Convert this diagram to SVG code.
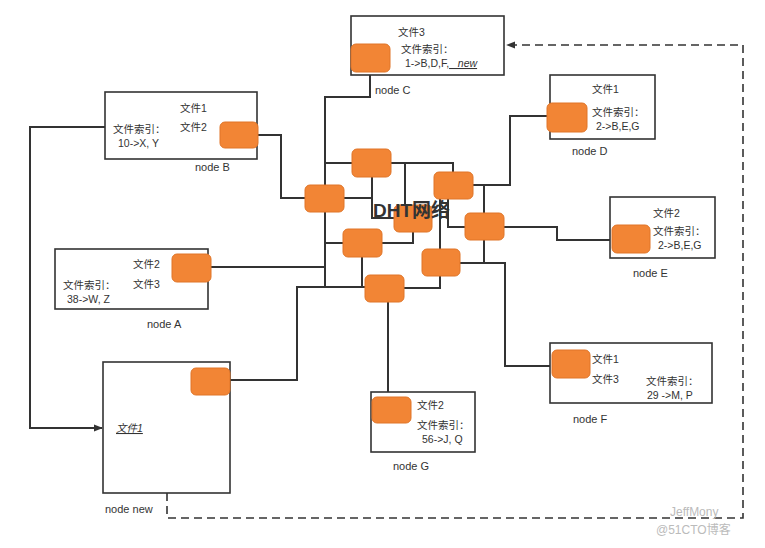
<svg xmlns="http://www.w3.org/2000/svg" width="765" height="548" viewBox="0 0 765 548">
<defs>
<style>
.box{fill:#fff;stroke:#333;stroke-width:1.6}
.peer{fill:#F28535;stroke:#E07528;stroke-width:1}
.ln{fill:none;stroke:#333;stroke-width:2}
.dash{fill:none;stroke:#333;stroke-width:1.6;stroke-dasharray:8 5}
text{font-family:"Liberation Sans","Noto Sans CJK SC",sans-serif;font-size:10.5px;fill:#333}
.lbl{font-size:11px}
.dht{font-family:"Liberation Sans","Noto Sans CJK SC",sans-serif;font-size:19px;font-weight:bold;fill:#333}
.wm{fill:#bbb;font-size:12px}
</style>
<marker id="arr" viewBox="0 0 10 10" refX="9" refY="5" markerWidth="9" markerHeight="9" markerUnits="userSpaceOnUse" orient="auto"><path d="M0,1 L10,5 L0,9 Z" fill="#333"/></marker>
</defs>

<g id="connectors">
<path class="ln" d="M370,72 V97 H325 V287"/>
<path class="ln" d="M325,163 H352"/>
<path class="ln" d="M258,135 H281 V198 H305"/>
<path class="ln" d="M211,267 H325"/>
<path class="ln" d="M230,380 H297 V287 H365"/>
<path class="ln" d="M325,243 H343"/>
<path class="ln" d="M362,257 V287"/>
<path class="ln" d="M344,198 H372"/>
<path class="ln" d="M372,177 V218 H394"/>
<path class="ln" d="M391,163 H453 V172"/>
<path class="ln" d="M405,163 V208"/>
<path class="ln" d="M382,243 H413 V232"/>
<path class="ln" d="M440,199 V249"/>
<path class="ln" d="M448,199 V227 H465"/>
<path class="ln" d="M473,185 H510 V116 H548"/>
<path class="ln" d="M484,185 V213"/>
<path class="ln" d="M484,240 V263"/>
<path class="ln" d="M460,263 H505 V366 H552"/>
<path class="ln" d="M504,227 H557 V240 H612"/>
<path class="ln" d="M404,288 H440 V276"/>
<path class="ln" d="M388,302 V397"/>
<path class="ln" d="M105,127 H30 V428 H102" marker-end="url(#arr)"/>
<path class="dash" d="M167,493 V518 H743 V45 H507" marker-end="url(#arr)"/>
</g>

<g id="dht-network">
<rect class="peer" x="352" y="149" width="39" height="28" rx="5"/>
<rect class="peer" x="305" y="185" width="39" height="27" rx="5"/>
<rect class="peer" x="434" y="172" width="39" height="27" rx="5"/>
<rect class="peer" x="394" y="205" width="38" height="27" rx="5"/>
<rect class="peer" x="465" y="213" width="39" height="27" rx="5"/>
<rect class="peer" x="343" y="229" width="39" height="28" rx="5"/>
<rect class="peer" x="422" y="249" width="38" height="27" rx="5"/>
<rect class="peer" x="365" y="275" width="39" height="27" rx="5"/>
<text class="dht" x="373" y="217">DHT网络</text>
</g>

<g id="node-c">
<rect class="box" x="351" y="16" width="153" height="59"/>
<rect class="peer" x="351" y="44" width="39" height="28" rx="5"/>
<text x="398" y="36">文件3</text>
<text x="401" y="53">文件索引：</text>
<text x="405" y="67">1-&gt;B,D,F,<tspan text-decoration="underline" font-style="italic"> _new</tspan></text>
<text class="lbl" x="375" y="94">node C</text>
</g>

<g id="node-b">
<rect class="box" x="105" y="92" width="152" height="67"/>
<rect class="peer" x="220" y="122" width="38" height="26" rx="5"/>
<text x="180" y="112">文件1</text>
<text x="180" y="131">文件2</text>
<text x="113" y="133">文件索引：</text>
<text x="118" y="147">10-&gt;X, Y</text>
<text class="lbl" x="195" y="171">node B</text>
</g>

<g id="node-a">
<rect class="box" x="55" y="249" width="153" height="60"/>
<rect class="peer" x="172" y="254" width="39" height="28" rx="5"/>
<text x="133" y="268">文件2</text>
<text x="133" y="288">文件3</text>
<text x="63" y="289">文件索引：</text>
<text x="67" y="303">38-&gt;W, Z</text>
<text class="lbl" x="147" y="328">node A</text>
</g>

<g id="node-d">
<rect class="box" x="550" y="75" width="105" height="64"/>
<rect class="peer" x="547" y="103" width="40" height="29" rx="5"/>
<text x="592" y="93">文件1</text>
<text x="592" y="116">文件索引：</text>
<text x="596" y="130">2-&gt;B,E,G</text>
<text class="lbl" x="572" y="155">node D</text>
</g>

<g id="node-e">
<rect class="box" x="610" y="197" width="105" height="61"/>
<rect class="peer" x="612" y="225" width="38" height="28" rx="5"/>
<text x="653" y="217">文件2</text>
<text x="653" y="235">文件索引：</text>
<text x="658" y="249">2-&gt;B,E,G</text>
<text class="lbl" x="633" y="277">node E</text>
</g>

<g id="node-f">
<rect class="box" x="550" y="343" width="162" height="60"/>
<rect class="peer" x="552" y="350" width="38" height="28" rx="5"/>
<text x="592" y="363">文件1</text>
<text x="592" y="383">文件3</text>
<text x="646" y="385">文件索引：</text>
<text x="647" y="399">29 -&gt;M, P</text>
<text class="lbl" x="573" y="423">node F</text>
</g>

<g id="node-g">
<rect class="box" x="371" y="392" width="104" height="60"/>
<rect class="peer" x="372" y="397" width="39" height="26" rx="5"/>
<text x="417" y="409">文件2</text>
<text x="417" y="429">文件索引：</text>
<text x="422" y="443">56-&gt;J, Q</text>
<text class="lbl" x="393" y="470">node G</text>
</g>

<g id="node-new">
<rect class="box" x="103" y="362" width="127" height="131"/>
<rect class="peer" x="191" y="368" width="39" height="27" rx="5"/>
<text x="116" y="432" font-style="italic" text-decoration="underline">文件1</text>
<text class="lbl" x="105" y="513">node new</text>
</g>

<g id="watermark">
<text class="wm" x="670" y="516">JeffMony</text>
<text class="wm" x="656" y="534">@51CTO博客</text>
</g>
</svg>
